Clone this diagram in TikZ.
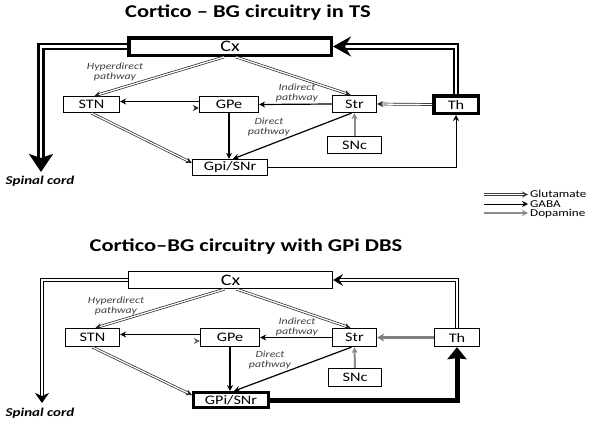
\documentclass[tikz,border=0pt]{standalone}
\usepackage{fontspec}
\setmainfont{Carlito}[FakeStretch=1.25]
\usetikzlibrary{arrows.meta,calc}
\begin{document}
\begin{tikzpicture}[x=1pt,y=-1pt,
  box/.style={draw, line width=1.3pt, fill=white, inner sep=0pt, font=\fontsize{13}{14}\selectfont},
  thickbox/.style={box, line width=3.5pt},
  glu/.style={draw=black!85, double=white, line width=0.7pt, double distance=1.3pt, -{Stealth[length=6pt,width=6pt]}},
  gaba/.style={draw=black, line width=1.2pt, -{Stealth[length=6pt,width=6pt]}},
  dopa/.style={draw=black!45, line width=2pt, -{Stealth[length=6pt,width=6pt]}},
  lab/.style={font=\fontsize{9.5}{10}\selectfont\itshape, text=black!75, align=center},
  ttl/.style={font=\fontsize{18}{20}\selectfont\bfseries},
  spc/.style={font=\fontsize{12}{13}\selectfont\bfseries\itshape},
  leg/.style={font=\fontsize{10.5}{11}\selectfont, anchor=west, inner sep=0pt, text height=6.5pt, text depth=0.5pt}
]
\path[use as bounding box, fill=white] (0,0) rectangle (601,426);

% ---------------- top diagram ----------------
\node[ttl] (t1) at (248,13) {Cortico – BG circuitry in TS};
\node[thickbox, minimum width=202.5pt, minimum height=17.5pt] (Cx) at (230,46.5) {\fontsize{16}{17}\selectfont Cx};
\node[box, minimum width=56pt, minimum height=16pt] (STN) at (91.5,104.5) {STN};
\node[box, minimum width=59pt, minimum height=16pt] (GPe) at (229,104.5) {GPe};
\node[box, minimum width=44pt, minimum height=17pt] (Str) at (354.5,104) {Str};
\node[thickbox, minimum width=44.5pt, minimum height=17.5pt] (Th) at (456,104.5) {Th};
\node[box, minimum width=54pt, minimum height=17pt] (SNc) at (354.5,145) {SNc};
\node[box, minimum width=75pt, minimum height=16pt] (GPi) at (230,167.5) {Gpi/SNr};
\coordinate (sp1) at (41,172);
\node[spc] (sc1) at (40,181) {Spinal cord};

\node[lab] (h1) at (115,72) {Hyperdirect\\pathway};
\node[lab] (i1) at (297,93) {Indirect\\pathway};
\node[lab] (d1) at (269,127) {Direct\\pathway};

\draw[draw=black, double=white, line width=2.5pt, double distance=2.5pt, -{Stealth[length=18pt,width=24pt,inset=4pt]}]
  (Cx.west) -| (sp1);
\draw[draw=black, double=white, line width=2.2pt, double distance=2.2pt, -{Stealth[length=18pt,width=20pt,inset=6pt]}]
  (Th.north) |- (Cx.east);
\draw[glu] ([xshift=-6]Cx.south) -- ([xshift=3]STN.north);
\draw[glu] ([xshift=6]Cx.south) -- ([xshift=-4]Str.north);
\draw[gaba] (Str.west) -- (GPe.east);
\draw[gaba] ([yshift=3]GPe.west) -- ([yshift=3]STN.east);
\draw[glu] ([yshift=-3.5]STN.east) -- ([yshift=-3.5]GPe.west);
\draw[glu] (STN.south) -- ([yshift=-4]GPi.north west);
\draw[gaba, line width=1.5pt] (GPe.south) -- (GPe.south |- GPi.north);
\draw[gaba] ([xshift=-3]Str.south) -- ([xshift=3]GPi.north);
\draw[dopa] (SNc.north) -- (Str.south);
\draw[glu] (Th.west) -- (Str.east);
\draw[gaba, line width=1pt] (GPi.east) -| (Th.south);

% legend
\coordinate (la) at (484,194.5); \coordinate (lb) at (528,194.5);
\coordinate (lc) at (484,204); \coordinate (ld) at (528,204);
\coordinate (le) at (484,213); \coordinate (lf) at (528,213);
\draw[glu, draw=black!75] (la) -- (lb);
\draw[gaba, line width=1pt] (lc) -- (ld);
\draw[dopa] (le) -- (lf);
\node[leg] (g1) at (530,194.5) {Glutamate};
\node[leg] (g2) at (530,204) {GABA};
\node[leg] (g3) at (530,213) {Dopamine};

% ---------------- bottom diagram ----------------
\node[ttl] (t2) at (246,247) {Cortico–BG circuitry with GPi DBS};
\node[box, minimum width=204pt, minimum height=17pt] (Cx2) at (230.5,280) {\fontsize{16}{17}\selectfont Cx};
\node[box, minimum width=54pt, minimum height=18pt] (STN2) at (92.5,337.5) {STN};
\node[box, minimum width=59pt, minimum height=18pt] (GPe2) at (230,337.5) {GPe};
\node[box, minimum width=44pt, minimum height=18pt] (Str2) at (354.5,337.5) {Str};
\node[box, minimum width=45pt, minimum height=18pt] (Th2) at (457,337.5) {Th};
\node[box, minimum width=53pt, minimum height=18pt] (SNc2) at (355,377.5) {SNc};
\node[box, line width=3pt, minimum width=75pt, minimum height=15pt] (GPi2) at (231,400) {GPi/SNr};
\coordinate (sp2) at (42,403);
\node[spc] (sc2) at (40,413) {Spinal cord};

\node[lab] (h2) at (116,305.5) {Hyperdirect\\pathway};
\node[lab] (i2) at (297,327) {Indirect\\pathway};
\node[lab] (d2) at (270,360) {Direct\\pathway};

\draw[draw=black, double=white, line width=1.2pt, double distance=2.3pt, -{Stealth[length=10pt,width=14pt,inset=3pt]}]
  (Cx2.west) -| (sp2);
\draw[draw=black, double=white, line width=1pt, double distance=2.2pt, -{Stealth[length=10pt,width=12pt,inset=4pt]}]
  (Th2.north) |- (Cx2.east);
\draw[glu] ([xshift=-6]Cx2.south) -- ([xshift=3]STN2.north);
\draw[glu] ([xshift=6]Cx2.south) -- ([xshift=-4]Str2.north);
\draw[gaba] (Str2.west) -- (GPe2.east);
\draw[gaba] ([yshift=3]GPe2.west) -- ([yshift=3]STN2.east);
\draw[glu, draw=black!60] ([yshift=-3.5]STN2.east) -- ([yshift=-3.5]GPe2.west);
\draw[glu] (STN2.south) -- ([yshift=-4]GPi2.north west);
\draw[gaba, line width=1.5pt] (GPe2.south) -- (GPe2.south |- GPi2.north);
\draw[gaba] ([xshift=-3]Str2.south) -- ([xshift=3]GPi2.north);
\draw[dopa] (SNc2.north) -- (Str2.south);
\draw[dopa, line width=3pt, draw=black!50, -{Stealth[length=7pt,width=8pt,inset=2pt]}] (Th2.west) -- (Str2.east);
\draw[draw=black, line width=5pt, -{Stealth[length=12pt,width=19pt,inset=1pt]}] (GPi2.east) -| (Th2.south);
\end{tikzpicture}
\end{document}
